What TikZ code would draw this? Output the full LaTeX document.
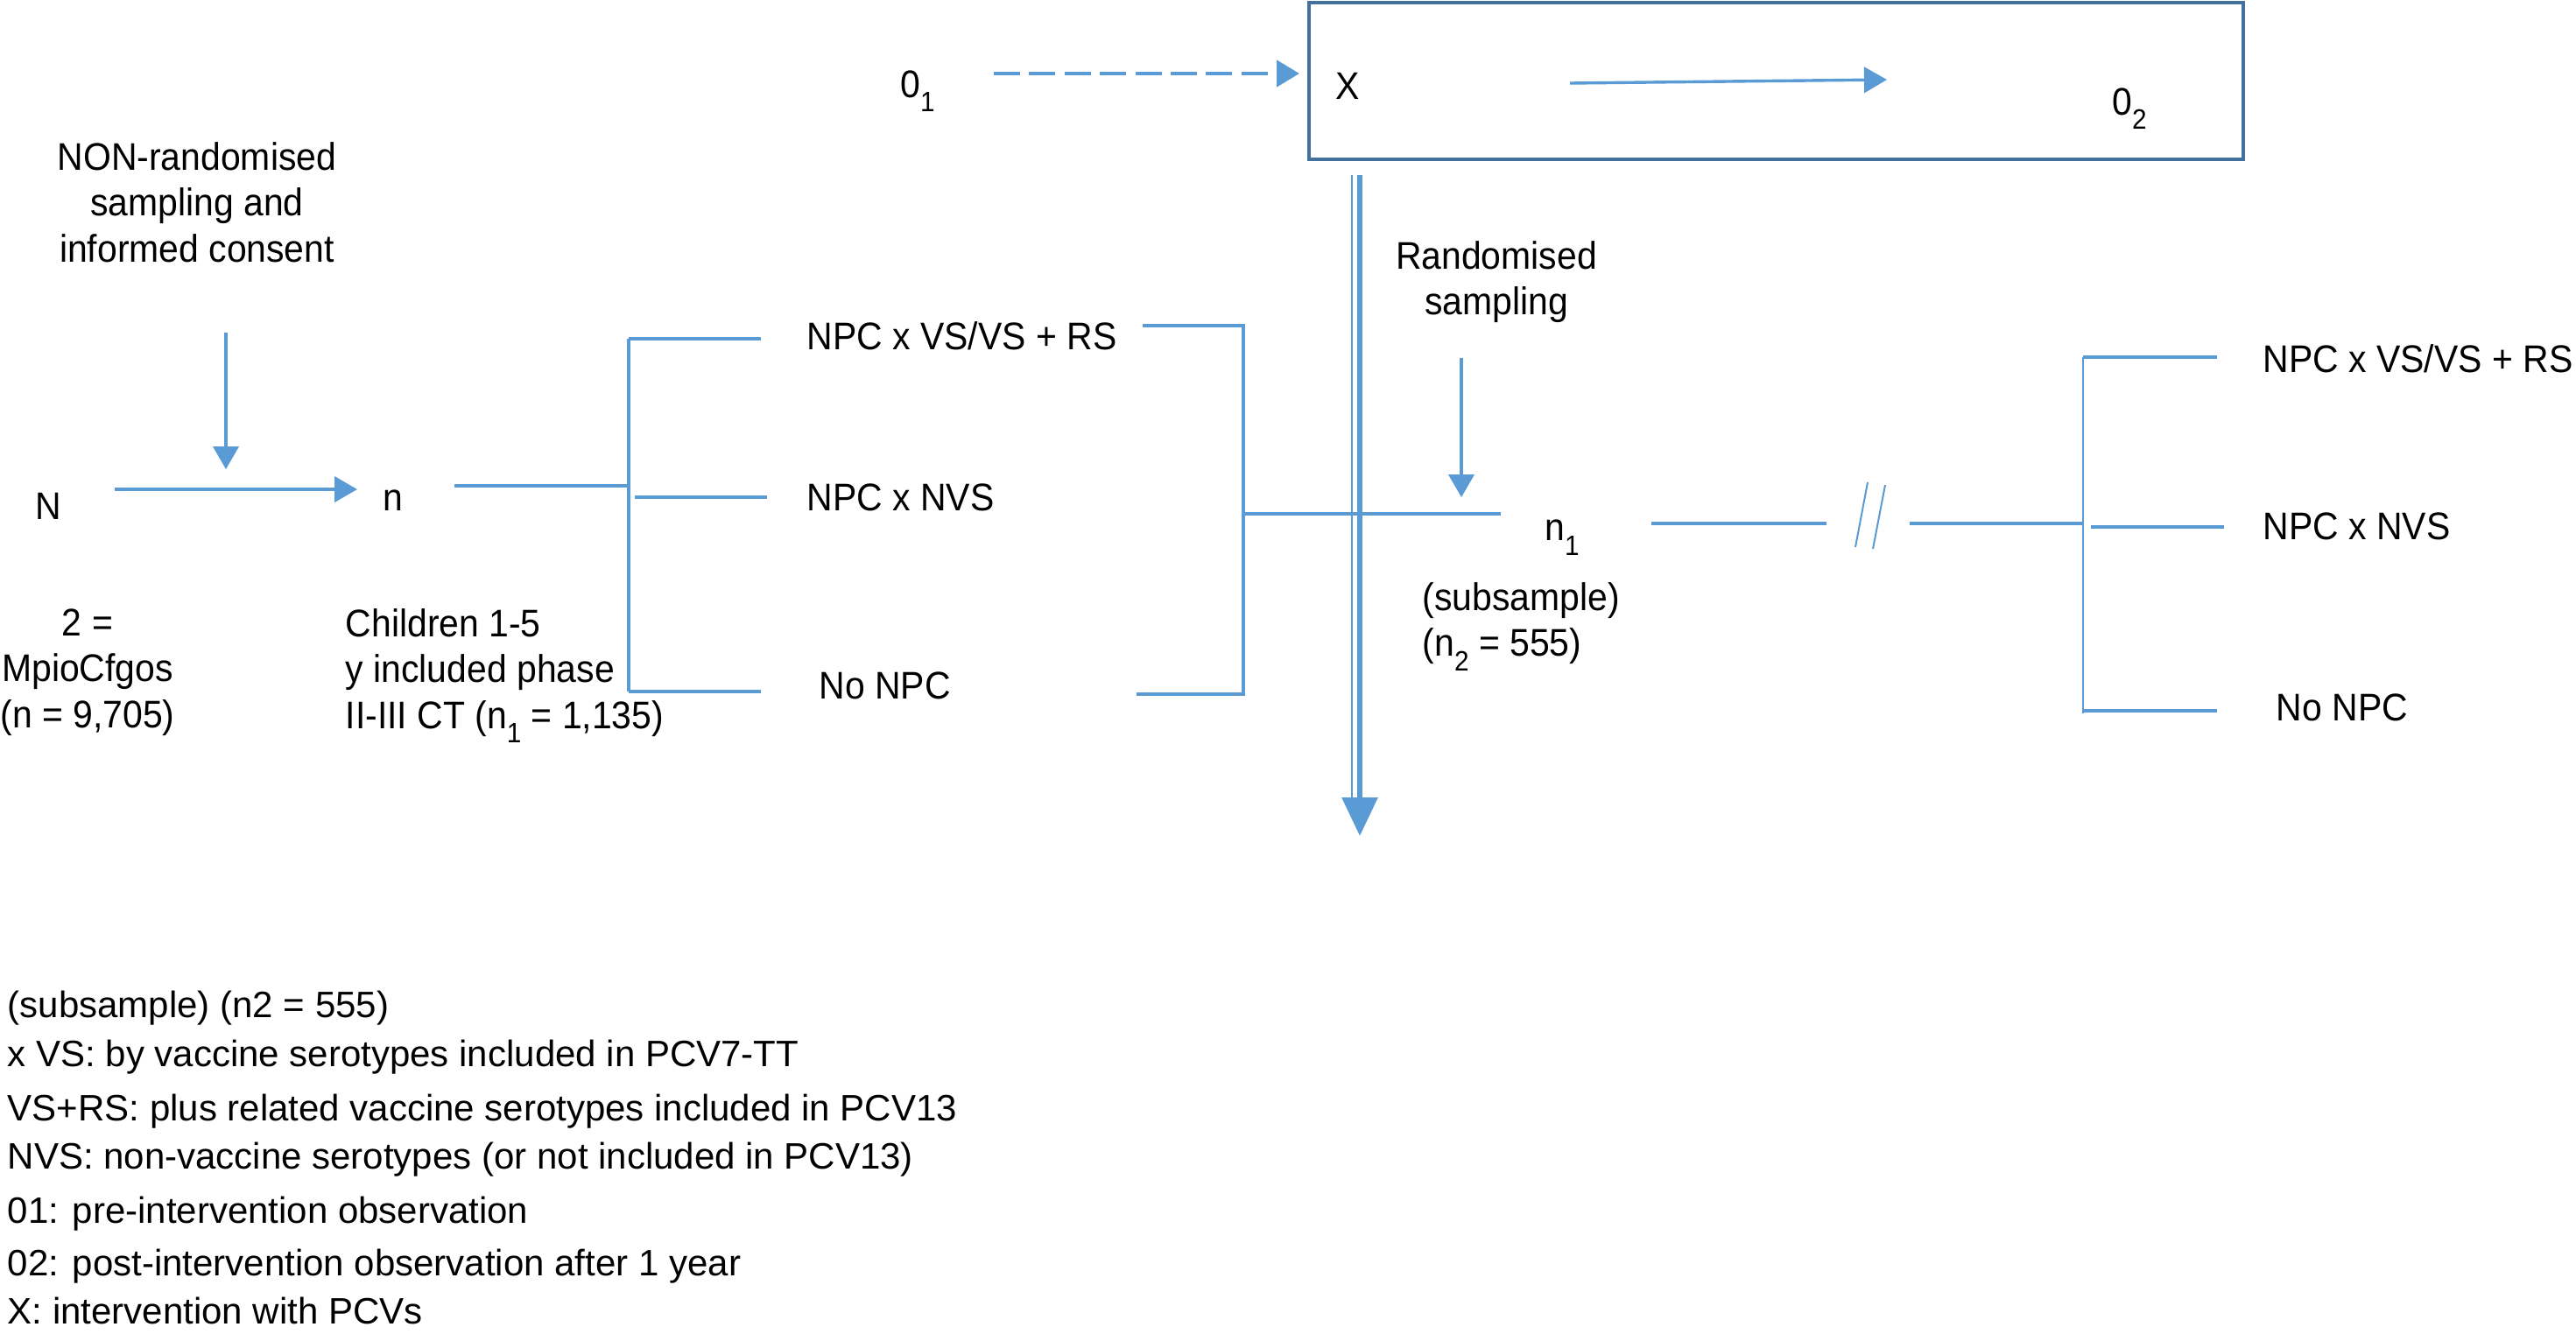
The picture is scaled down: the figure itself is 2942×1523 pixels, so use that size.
\documentclass[tikz,border=0pt]{standalone}
\usepackage{fontspec}
\setmainfont[FakeStretch=0.93]{Liberation Sans}
\newfontfamily\legfont{Liberation Sans}
\usetikzlibrary{arrows.meta}
\definecolor{lblue}{HTML}{5B9BD5}
\definecolor{dblue}{HTML}{41719C}
\newcommand\mysub[1]{\raisebox{-0.38em}{\fontsize{8pt}{8pt}\selectfont #1}}
\begin{document}
\begin{tikzpicture}[x=0.25pt,y=-0.25pt,
  txt/.style={inner sep=0pt, font=\fontsize{11pt}{13.1pt}\selectfont},
  legtxt/.style={inner sep=0pt, anchor=base west, font=\legfont\fontsize{10.5pt}{13.1pt}\selectfont},
  ln/.style={draw=lblue, line width=0.85pt},
  thinln/.style={draw=lblue, line width=0.5pt},
  arr/.style={ln, -{Triangle[length=6.5pt,width=7.3pt]}},
  dasharr/.style={draw=lblue, line width=1.2pt, dash pattern=on 7.5pt off 2.6pt, -{Triangle[length=6.5pt,width=7.5pt]}},
  bigarr/.style={draw=lblue, line width=1.5pt, -{Triangle[length=11pt,width=10pt]}},
  boxst/.style={draw=dblue, line width=1pt, inner sep=0pt}]
\useasboundingbox (0,0) rectangle (2942,1523);
\fill[white] (0,0) rectangle (2942,1523);

% ---- top: observation / intervention ----
\node[boxst, minimum width=266.75pt, minimum height=44.75pt] (box) at (2028.5,92.5) {};
\node[txt] (o1) at (1048,104) {0\mysub{1}};
\node[txt] (X) at (1539,98) {X};
\node[txt] (o2) at (2432,124) {0\mysub{2}};
\coordinate (d1) at (1135,84);
\coordinate (d2) at (1484,84);
\draw[dasharr] (d1) -- (d2);
\coordinate (b1) at (1793,95);
\coordinate (b2) at (2155,91);
\draw[arr] (b1) -- (b2);

% ---- big vertical arrow ----
\coordinate (va1) at (1553,200);
\coordinate (va2) at (1553,955);
\coordinate (vt1) at (1544,200);
\coordinate (vt2) at (1544,912);
\draw[thinln] (vt1) -- (vt2);
\draw[bigarr] (va1) -- (va2);

% ---- left part ----
\node[txt, align=center] (nonrand) at (225,231) {NON-randomised\\sampling and\\informed consent};
\coordinate (nr1) at (258,380);
\coordinate (nr2) at (258,536);
\draw[arr] (nr1) -- (nr2);
\node[txt] (N) at (55,578) {N};
\node[txt] (n) at (449,572) {n};
\coordinate (Nn1) at (131,559);
\coordinate (Nn2) at (408,559);
\draw[arr] (Nn1) -- (Nn2);
\node[txt, align=center] (pop) at (100,768) {2 =\\MpioCfgos\\(n = 9,705)};
\node[txt, align=left, anchor=west] (child) at (394,772) {Children 1-5\\y included phase\\II-III CT (n\mysub{1} = 1,135)};

% left bracket
\coordinate (nl1) at (519,555);
\coordinate (lbt) at (718,387);
\coordinate (lbm) at (718,555);
\coordinate (lbb) at (718,790);
\draw[ln] (nl1) -- (lbm);
\draw[ln] (lbt) -- (lbb);
\coordinate (lt2) at (869,387);
\coordinate (lm1) at (725,568);
\coordinate (lm2) at (876,568);
\coordinate (lb2) at (869,790);
\draw[ln] (lbt) -- (lt2);
\draw[ln] (lm1) -- (lm2);
\draw[ln] (lbb) -- (lb2);
\node[txt, anchor=west] (g1) at (921,384) {NPC x VS/VS + RS};
\node[txt, anchor=west] (g2) at (921,568) {NPC x NVS};
\node[txt, anchor=west] (g3) at (935,783) {No NPC};

% middle bracket
\coordinate (mt1) at (1305,372);
\coordinate (mt2) at (1420,372);
\coordinate (mb1) at (1298,793);
\coordinate (mb2) at (1420,793);
\coordinate (mm) at (1420,587);
\coordinate (mm2) at (1714,587);
\draw[ln] (mt1) -- (mt2) -- (mb2) -- (mb1);
\draw[ln] (mm) -- (mm2);

% ---- randomised sampling ----
\node[txt, align=center] (rand) at (1709,322) {Randomised\\sampling};
\coordinate (r1) at (1669,409);
\coordinate (r2) at (1669,568);
\draw[arr] (r1) -- (r2);
\node[txt] (n1) at (1784,614) {n\mysub{1}};
\node[txt, align=left, anchor=west] (sub) at (1624,716) {(subsample)\\(n\mysub{2} = 555)};

% break line
\coordinate (k1) at (1886,598);
\coordinate (k2) at (2086,598);
\coordinate (k3) at (2181,598);
\coordinate (rbm) at (2379,598);
\draw[ln] (k1) -- (k2);
\draw[ln] (k3) -- (rbm);
\coordinate (s1a) at (2133,551);
\coordinate (s1b) at (2119,625);
\coordinate (s2a) at (2153,554);
\coordinate (s2b) at (2139,627);
\draw[thinln] (s1a) -- (s1b);
\draw[thinln] (s2a) -- (s2b);

% right bracket
\coordinate (rbt) at (2379,408);
\coordinate (rbb) at (2379,815);
\coordinate (rt2) at (2532,408);
\coordinate (rm1) at (2388,602);
\coordinate (rm2) at (2540,602);
\coordinate (rbb2) at (2379,812);
\coordinate (rb2) at (2532,812);
\draw[thinln, line width=0.65pt] (rbt) -- (rbb);
\draw[ln] (rbt) -- (rt2);
\draw[ln] (rm1) -- (rm2);
\draw[ln] (rbb2) -- (rb2);
\node[txt, anchor=west] (h1) at (2584,410) {NPC x VS/VS + RS};
\node[txt, anchor=west] (h2) at (2584,601) {NPC x NVS};
\node[txt, anchor=west] (h3) at (2599,808) {No NPC};

% ---- legend ----
\node[legtxt] (leg1) at (8,1162) {(subsample) (n2 = 555)};
\node[legtxt] (leg2) at (8,1218) {x VS: by vaccine serotypes included in PCV7-TT};
\node[legtxt] (leg3) at (8,1280) {VS+RS: plus related vaccine serotypes included in PCV13};
\node[legtxt] (leg4) at (8,1335) {NVS: non-vaccine serotypes (or not included in PCV13)};
\node[legtxt] (leg5) at (8,1397) {01: pre-intervention observation};
\node[legtxt] (leg6) at (8,1457) {02: post-intervention observation after 1 year};
\node[legtxt] (leg7) at (8,1512) {X: intervention with PCVs};
\end{tikzpicture}
\end{document}
